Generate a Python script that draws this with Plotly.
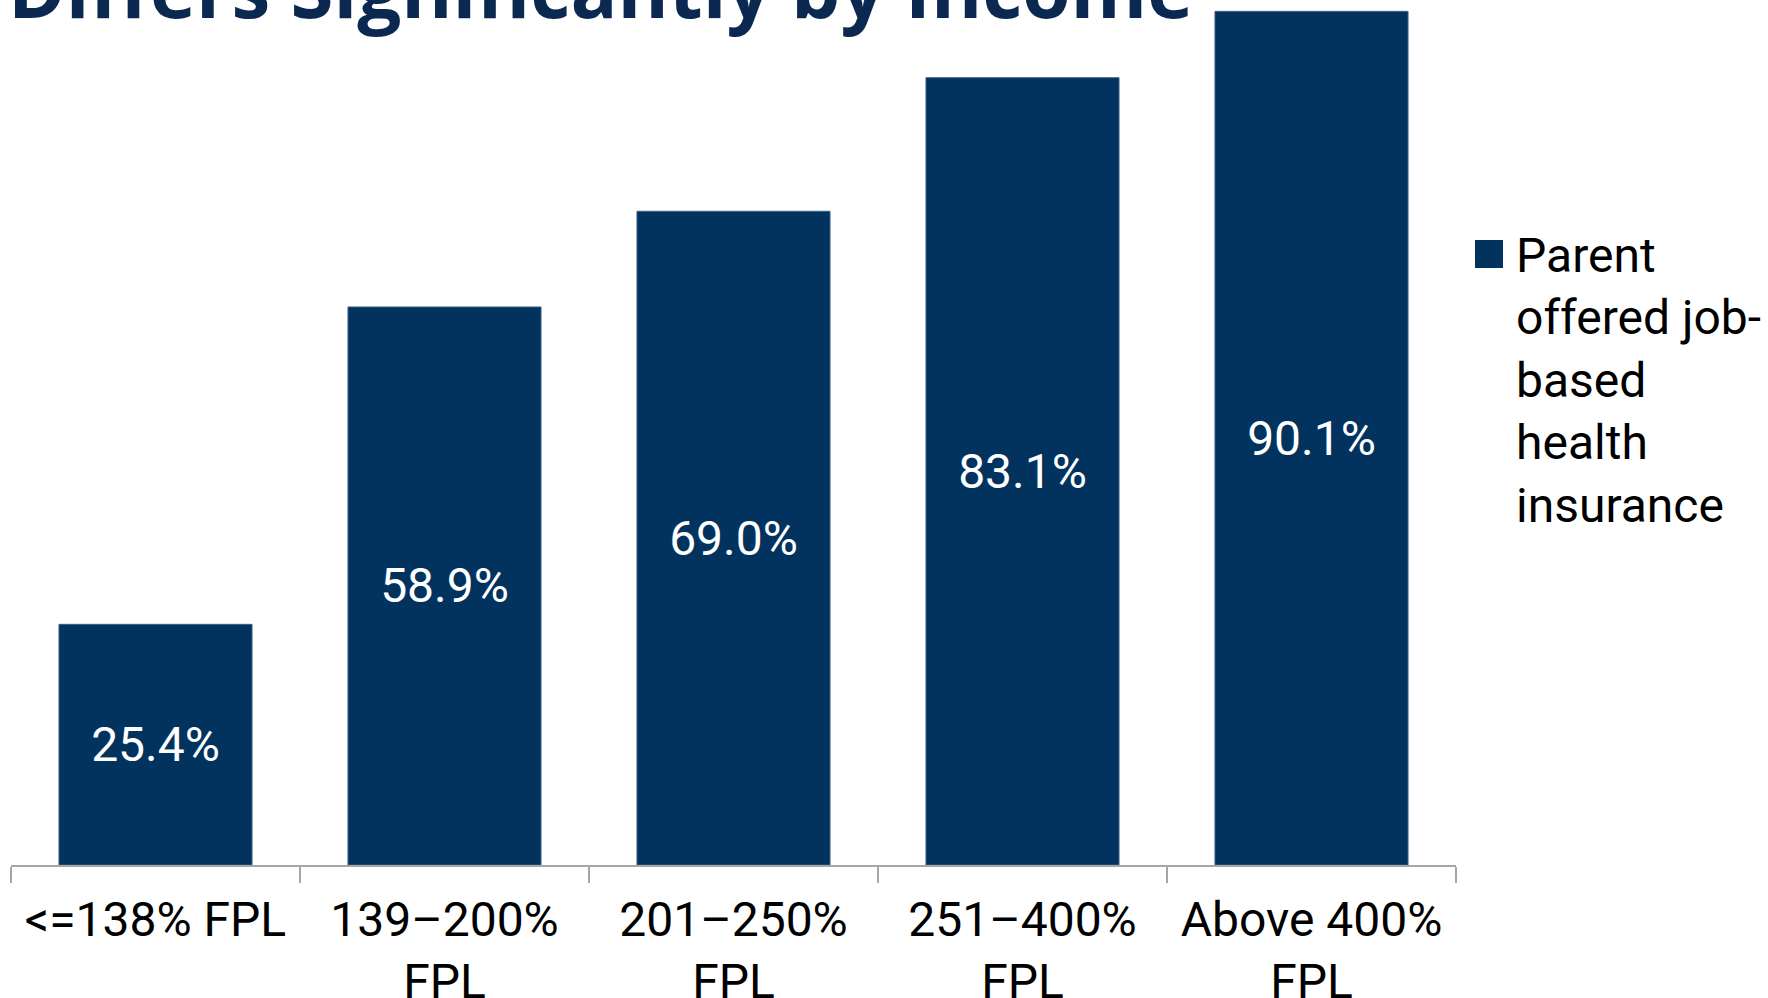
import plotly.graph_objects as go

# Share of children whose parent is offered job-based coverage, by income group
categories = ["<=138% FPL", "139–200%<br>FPL", "201–250%<br>FPL", "251–400%<br>FPL", "Above 400%<br>FPL"]
offered_pct = [25.4, 58.9, 69.0, 83.1, 90.1]
series_name = "Parent<br>offered job-<br>based<br>health<br>insurance"
title_text = "Differs Significantly by Income"

W, H = 1768, 998
M_L, M_R, M_T, M_B = 11, 312, 0, 133
PLOT_W = W - M_L - M_R
PLOT_H = H - M_T - M_B

BAR_COLOR = "#02335f"
TITLE_COLOR = "#0a2850"
FONT = "Roboto, 'Noto Sans', Arial, sans-serif"
TITLE_FONT = "'Open Sans', 'Noto Sans', Arial, sans-serif"


def px_x(x):
    return (x - M_L) / PLOT_W


def px_y(y):
    return (H - M_B - y) / PLOT_H


fig = go.Figure(
    go.Bar(
        x=categories,
        y=offered_pct,
        name=series_name,
        marker=dict(color=BAR_COLOR, line=dict(color="#3d5f85", width=1)),
        text=[f"{v:.1f}%" for v in offered_pct],
        textposition="inside",
        insidetextanchor="middle",
        textangle=0,
        textfont=dict(color="white", size=48, family=FONT),
        showlegend=False,
        hoverinfo="skip",
    )
)

# Legend drawn by hand so the swatch and wrapped label keep their size
fig.add_shape(
    type="rect", xref="paper", yref="paper",
    x0=px_x(1475), x1=px_x(1503), y0=px_y(268), y1=px_y(240),
    fillcolor=BAR_COLOR, line=dict(width=0),
)
fig.add_annotation(
    text=series_name, xref="paper", yref="paper",
    x=px_x(1514), y=px_y(380), xanchor="left", yanchor="middle",
    align="left", showarrow=False,
    font=dict(size=48, color="black", family=FONT),
)

# Heading running off the top edge
fig.add_annotation(
    text=title_text, xref="paper", yref="paper",
    x=px_x(6), y=px_y(-12), xanchor="left", yanchor="middle",
    showarrow=False,
    font=dict(size=78, color=TITLE_COLOR, family=TITLE_FONT, weight=700),
)

fig.update_layout(
    width=W, height=H,
    margin=dict(l=M_L, r=M_R, t=M_T, b=M_B, pad=0),
    paper_bgcolor="white", plot_bgcolor="white",
    bargap=0.332,
    font=dict(family=FONT, color="black"),
    xaxis=dict(
        automargin=False,
        showline=True, linecolor="#a6a6a6", linewidth=2,
        ticks="outside", tickson="boundaries", ticklen=16,
        tickcolor="#a6a6a6", tickwidth=2,
        ticklabelstandoff=11,
        tickfont=dict(size=48, color="black", family=FONT),
        showgrid=False, zeroline=False,
    ),
    yaxis=dict(range=[0, 91.3], visible=False, showgrid=False, zeroline=False),
)

fig.write_html("out.html")
